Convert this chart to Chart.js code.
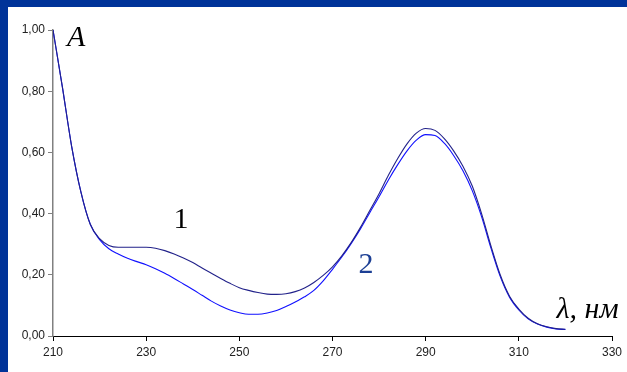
<!doctype html>
<html lang="ru">
<head>
<meta charset="UTF-8" />
<title>Spectra</title>
<script src="https://cdn.jsdelivr.net/npm/chart.js"></script>
<style>
    body { margin: 0; background: #003399; width: 627px; height: 372px; overflow: hidden; position: relative; }
    #panel { position: absolute; left: 8px; top: 7px; width: 619px; height: 365px; background: #fff; }
    #myChart { position: absolute; left: 0; top: 0; }
</style>
</head>
<body>
<div id="panel"></div>
<canvas id="myChart" width="627" height="372"></canvas>
<script>
    // wavelength, nm
    const lambda = [210, 212, 214, 216, 218, 220, 222, 224, 226, 228, 230, 232, 234, 236, 238, 240,
        242, 244, 246, 248, 250, 252, 254, 256, 258, 260, 262, 264, 266, 268, 270, 272, 274, 276, 278,
        280, 282, 284, 286, 288, 290, 292, 294, 296, 298, 300, 302, 304, 306, 308, 310, 312, 314, 316,
        318, 320];

    // curve 1
    const absorb1 = [1.00, 0.815, 0.62, 0.47, 0.365, 0.318, 0.296, 0.29, 0.29, 0.29, 0.29, 0.287,
        0.279, 0.268, 0.255, 0.24, 0.222, 0.205, 0.188, 0.172, 0.158, 0.149, 0.142, 0.137, 0.136,
        0.138, 0.145, 0.157, 0.175, 0.198, 0.226, 0.262, 0.305, 0.355, 0.41, 0.465, 0.525, 0.58,
        0.628, 0.663, 0.678, 0.672, 0.645, 0.605, 0.555, 0.49, 0.40, 0.295, 0.20, 0.13, 0.088,
        0.058, 0.04, 0.03, 0.024, 0.022];

    // curve 2
    const absorb2 = [1.00, 0.815, 0.62, 0.47, 0.365, 0.315, 0.285, 0.268, 0.254, 0.243, 0.233, 0.22,
        0.205, 0.188, 0.17, 0.152, 0.133, 0.114, 0.098, 0.085, 0.076, 0.071, 0.071, 0.075, 0.083,
        0.096, 0.111, 0.128, 0.149, 0.18, 0.218, 0.258, 0.302, 0.35, 0.403, 0.455, 0.51, 0.56,
        0.605, 0.64, 0.658, 0.655, 0.63, 0.59, 0.54, 0.475, 0.39, 0.288, 0.195, 0.127, 0.085,
        0.056, 0.039, 0.029, 0.023, 0.021];

    const xTicks = [210, 230, 250, 270, 290, 310, 330];
    const yTicks = [0, 0.2, 0.4, 0.6, 0.8, 1.0];

    function toPoints(ys) {
        return lambda.map((x, i) => ({ x: x, y: ys[i] }));
    }

    /* captions drawn on top of the plot */
    const captions = {
        id: 'captions',
        afterDraw(chart) {
            const c = chart.ctx;
            const sx = chart.scales.x, sy = chart.scales.y;
            c.save();
            c.textBaseline = 'middle';
            c.textAlign = 'left';

            c.fillStyle = '#000';
            c.font = 'italic 30px "Liberation Serif", "Times New Roman", serif';
            c.fillText('A', sx.getPixelForValue(213.0), sy.getPixelForValue(0.975));

            c.font = '30px "Liberation Serif", "Times New Roman", serif';
            c.textAlign = 'center';
            c.fillText('1', sx.getPixelForValue(237.5), sy.getPixelForValue(0.379));

            c.fillStyle = '#1c3f94';
            c.fillText('2', sx.getPixelForValue(277.2), sy.getPixelForValue(0.23));

            c.fillStyle = '#000';
            c.textAlign = 'left';
            c.font = 'italic 30px "Liberation Serif", "Times New Roman", serif';
            c.fillText('λ, нм', sx.getPixelForValue(318.1), sy.getPixelForValue(0.085));
            c.restore();
        }
    };

    const ctx = document.getElementById('myChart');

    new Chart(ctx, {
        type: 'line',
        data: {
            datasets: [{
                label: '1',
                data: toPoints(absorb1),
                borderColor: '#22228a',
                borderWidth: 1.1,
                pointRadius: 0,
                cubicInterpolationMode: 'monotone',
                fill: false
            }, {
                label: '2',
                data: toPoints(absorb2),
                borderColor: '#1010ff',
                borderWidth: 1.1,
                pointRadius: 0,
                cubicInterpolationMode: 'monotone',
                fill: false
            }]
        },
        options: {
            responsive: false,
            animation: false,
            layout: { padding: { left: 0, top: 30, right: 15, bottom: 0 } },
            plugins: {
                legend: { display: false },
                tooltip: { enabled: false }
            },
            scales: {
                x: {
                    type: 'linear',
                    min: 210,
                    max: 330,
                    afterBuildTicks: s => { s.ticks = xTicks.map(v => ({ value: v })); },
                    afterFit: s => { s.height = 36; },
                    grid: { drawOnChartArea: false, drawTicks: true, tickLength: 5, color: '#000' },
                    border: { color: '#000', width: 1 },
                    ticks: {
                        padding: 4,
                        color: '#222',
                        maxRotation: 0,
                        font: { family: '"Liberation Sans", Arial, sans-serif', size: 12 },
                        callback: v => String(v)
                    }
                },
                y: {
                    min: 0,
                    max: 1,
                    afterBuildTicks: s => { s.ticks = yTicks.map(v => ({ value: v })); },
                    afterFit: s => { s.width = 53; },
                    grid: { drawOnChartArea: false, drawTicks: true, tickLength: 5, color: '#808080' },
                    border: { color: '#808080', width: 1.5 },
                    ticks: {
                        padding: 3,
                        color: '#222',
                        font: { family: '"Liberation Sans", Arial, sans-serif', size: 12 },
                        callback: v => v.toFixed(2).replace('.', ',')
                    }
                }
            }
        },
        plugins: [captions]
    });
</script>
</body>
</html>
